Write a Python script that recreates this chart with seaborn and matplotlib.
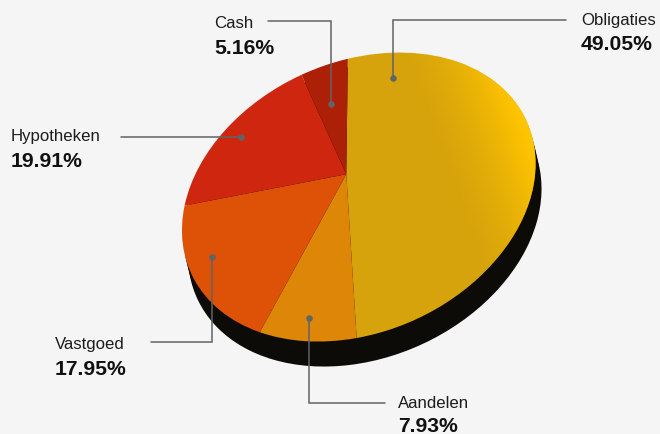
import numpy as np
import matplotlib
matplotlib.use("Agg")
import matplotlib.pyplot as plt
import seaborn as sns
from matplotlib.transforms import Transform, Affine2D

categories = ["Obligaties", "Aandelen", "Vastgoed", "Hypotheken", "Cash"]
shares = [49.05, 7.93, 17.95, 19.91, 5.16]
share_labels = ["49.05%", "7.93%", "17.95%", "19.91%", "5.16%"]
colors = ["#d6a30c", "#dd8608", "#de5207", "#cf2610", "#ad2008"]

sns.set_theme(style="white")
plt.rcParams['font.family'] = ['Liberation Sans', 'DejaVu Sans']

# the disc is a tilted photo-like 3D pie, so map the unit circle by a homography
# unit circle angle (deg) -> pixel position in the picture
rim_angles = [90, -86.6, -115.1, -179.75, -251.4, 8]
rim_pixels = [(348, 58), (357, 338), (262, 335), (184, 207), (303, 78), (537, 155)]
fit_weights = [1, 1, 1, 1, 1, 0.25, 4]
src = [(np.cos(np.radians(a)), np.sin(np.radians(a))) for a in rim_angles] + [(0, 0)]
dst = rim_pixels + [(346, 175)]

rows = []
for (x, y), (u, v), k in zip(src, dst, fit_weights):
    rows.append([k * n for n in [x, y, 1, 0, 0, 0, -u * x, -u * y, -u]])
    rows.append([k * n for n in [0, 0, 0, x, y, 1, -v * x, -v * y, -v]])
H = np.linalg.svd(np.array(rows))[2][-1].reshape(3, 3)


class TiltTransform(Transform):
    input_dims = 2
    output_dims = 2
    is_affine = False
    has_inverse = False

    def transform_non_affine(self, values):
        values = np.asarray(values)
        pts = np.c_[values, np.ones(len(values))] @ H.T
        return pts[:, :2] / pts[:, 2:]


fig = plt.figure(figsize=(6.6, 4.35), dpi=100, facecolor="#f5f5f5")
ax = fig.add_axes([0, 0, 1, 1])
ax.set_facecolor("#f5f5f5")

# black side of the disc first
for off in [(2, 8), (4, 16), (6, 25)]:
    side, _ = ax.pie([100], colors=["#0c0b08"], radius=1, wedgeprops={"linewidth": 0})
    side[0].set_transform(TiltTransform() + Affine2D().translate(*off) + ax.transData)
    side[0].set_zorder(1)

wedges, _ = ax.pie(shares, colors=colors, startangle=90, counterclock=False, radius=1,
                   wedgeprops={"linewidth": 0})
for w in wedges:
    w.set_transform(TiltTransform() + ax.transData)
    w.set_zorder(2)

ax.set_aspect("auto")
ax.set_xlim(0, 660)
ax.set_ylim(435, 0)
ax.axis("off")

# lighter rim towards the top right of the yellow slice
yy, xx = np.mgrid[50:350:300j, 340:545:205j]
glow = np.clip((xx - 450) / 95 + (190 - yy) / 260, 0, 1) ** 1.5
rgba = np.zeros(glow.shape + (4,))
rgba[..., 0] = 1.0
rgba[..., 1] = 0.77
rgba[..., 2] = 0.0
rgba[..., 3] = glow
im = ax.imshow(rgba, extent=(340, 545, 350, 50), zorder=3, aspect="auto")
im.set_clip_path(wedges[0])
ax.set_xlim(0, 660)
ax.set_ylim(435, 0)

# callouts: label position, elbow line, dot
line_col = "#5f6468"
callouts = [
    ((581, 21), (581, 44), [(566, 21), (393, 21), (393, 79)]),
    ((398, 404), (398, 427), [(385, 404), (309, 404), (309, 319)]),
    ((55, 345), (55, 370), [(151, 343), (212, 343), (212, 258)]),
    ((11, 137), (11, 162), [(121, 138), (241, 138)]),
    ((214, 23), (214, 48), [(268, 22), (331, 22), (331, 105)]),
]
for name, pct, (head, sub, path) in zip(categories, share_labels, callouts):
    ax.text(head[0], head[1], name, fontsize=12.1, color="#1c1c1c", ha="left", va="center", zorder=5)
    ax.text(sub[0], sub[1], pct, fontsize=15.2, fontweight="bold", color="#111111", ha="left", va="center", zorder=5)
    px, py = zip(*path)
    ax.plot(px, py, color=line_col, lw=1.1, zorder=4, solid_joinstyle="miter")
    sns.scatterplot(x=[px[-1]], y=[py[-1]], color=line_col, s=22, linewidth=0, zorder=4, ax=ax, legend=False)

ax.set_xlim(0, 660)
ax.set_ylim(435, 0)
fig.savefig("out.png", dpi=100, facecolor=fig.get_facecolor())
